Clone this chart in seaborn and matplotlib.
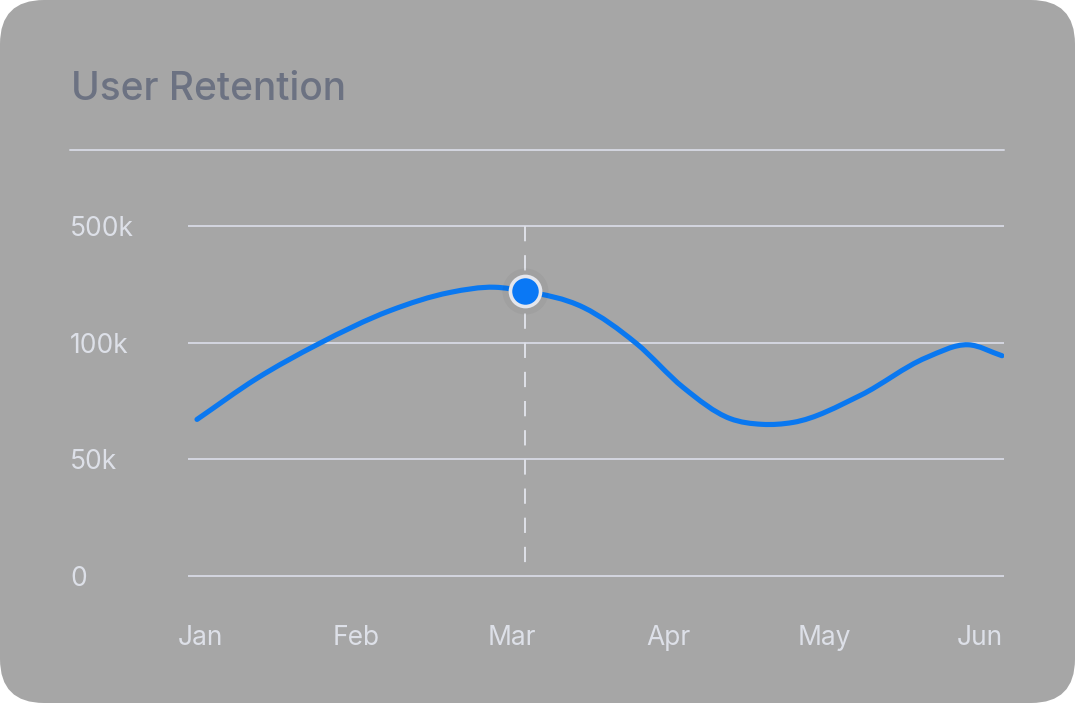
# User Retention card - line chart recreation
import numpy as np
import matplotlib
matplotlib.use("Agg")
import matplotlib.pyplot as plt
from matplotlib.patches import FancyBboxPatch, PathPatch
from matplotlib.path import Path
from matplotlib.lines import Line2D
import seaborn as sns

sns.set_style("white")
plt.rcParams["font.family"] = ["Inter", "DejaVu Sans"]
plt.rcParams["lines.scale_dashes"] = False

# %%
# Data (month index, users)

months = ["Jan", "Feb", "Mar", "Apr", "May", "Jun"]
y_ticks = [0, 50_000, 100_000, 500_000]
y_labels = ["0", "50k", "100k", "500k"]

sample_month = [0.00, 0.37, 0.75, 1.20, 1.57, 1.85, 2.04, 2.40, 2.73,
                3.02, 3.31, 3.51, 3.70, 4.12, 4.53, 4.79, 5.00]
retention = [67_100, 84_600, 99_300, 210_000, 272_000, 290_000, 276_000,
             221_000, 99_600, 80_800, 67_500, 65_000, 65_800, 77_400,
             93_600, 99_100, 94_400]
highlight_idx = 6  # the point marked near Mar


# %%
# Piecewise y scale: 0 / 50k / 100k / 500k equally spaced

def fwd(v):
    v = np.asarray(v, dtype=float)
    return np.where(v <= 100_000, v / 50_000, 2 + (v - 100_000) / 400_000)


def inv(t):
    t = np.asarray(t, dtype=float)
    return np.where(t <= 2, t * 50_000, 100_000 + (t - 2) * 400_000)


def smooth_path(x, t):
    # cubic bezier through the points (like a chart lib "tension" line)
    x = np.asarray(x, float)
    t = np.asarray(t, float)
    dx = np.diff(x)
    sec = np.diff(t) / dx
    slope = np.empty_like(t)
    slope[1:-1] = (sec[:-1] * dx[1:] + sec[1:] * dx[:-1]) / (dx[:-1] + dx[1:])
    slope[0], slope[-1] = sec[0], sec[-1]
    verts, codes = [(x[0], t[0])], [Path.MOVETO]
    for i, h in enumerate(dx):
        verts += [(x[i] + h / 3, t[i] + slope[i] * h / 3),
                  (x[i + 1] - h / 3, t[i + 1] - slope[i + 1] * h / 3),
                  (x[i + 1], t[i + 1])]
        codes += [Path.CURVE4] * 3
    return Path(verts, codes)


W, H = 1075, 705
fig = plt.figure(figsize=(W / 100, H / 100), dpi=100)
fig.patch.set_facecolor("white")

card = FancyBboxPatch((0, 2), W, H - 2, boxstyle="round,pad=0,rounding_size=44",
                      transform=None, facecolor="#a6a6a6", edgecolor="none", zorder=0)
fig.add_artist(card)

ax_left, ax_right, ax_top, ax_bot = 188, 1004, 216, 586
ax = fig.add_axes([ax_left / W, 1 - ax_bot / H, (ax_right - ax_left) / W, (ax_bot - ax_top) / H])
ax.patch.set_alpha(0)
ax.set_yscale("function", functions=(fwd, inv))

grid_col = "#d4d6e0"
for v in y_ticks:
    ax.axhline(v, color=grid_col, lw=1.4, zorder=1)

hx = sample_month[highlight_idx]
hy = retention[highlight_idx]
ax.plot([hx, hx], [500_000, 0], color="#dfe1e8", lw=1.4, dashes=(11, 10), zorder=1)

line = PathPatch(smooth_path(sample_month, fwd(retention)), transform=ax.transLimits + ax.transAxes,
                 fill=False, edgecolor="#0a78f0", lw=3.7, capstyle="round", joinstyle="round", zorder=3)
ax.add_artist(line)

ax.scatter([hx], [hy], s=1100, color="black", alpha=0.035, zorder=4, linewidths=0)
sns.scatterplot(x=[hx], y=[hy], ax=ax, s=470, color="#0a78f5",
                edgecolor="#e4e6ec", linewidth=2.6, zorder=5)

unit = (576 - 226) / 3
ax.set_ylim(inv(-(ax_bot - 576) / unit), inv(3 + (226 - ax_top) / unit))
ax.set_xlim((ax_left - 197) / 161, (ax_right - 197) / 161)

ax.set_yticks(y_ticks)
ax.set_yticklabels(y_labels)
ax.set_xticks(np.arange(len(months)) * 0.969 + 0.02)
ax.set_xticklabels(months)
tick_col = "#dde0e8"
ax.tick_params(axis="y", length=0, pad=85, labelsize=19, labelcolor=tick_col)
ax.tick_params(axis="x", length=0, pad=28, labelsize=19, labelcolor=tick_col)
for lab in ax.get_yticklabels():
    lab.set_horizontalalignment("left")
for s in ax.spines.values():
    s.set_visible(False)
ax.set_xlabel("")
ax.set_ylabel("")

fig.add_artist(Line2D([70 / W, 1004 / W], [1 - 150 / H] * 2, color=grid_col, lw=1.4))
fig.text(71 / W, 1 - 100 / H, "User Retention", fontsize=28, fontweight="medium",
         color="#6c7282", va="baseline", ha="left")

fig.savefig("out.png", dpi=100, facecolor=fig.get_facecolor())
